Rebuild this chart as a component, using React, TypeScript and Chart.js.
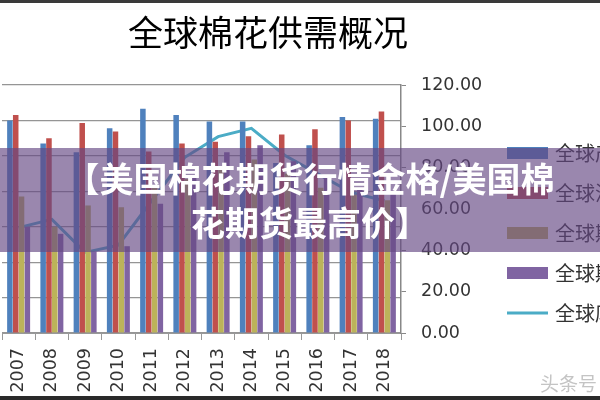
import React, { useEffect, useRef } from 'react';
import { Chart, registerables } from 'chart.js';

Chart.register(...registerables);

// ---- data ----
const years = ['2007', '2008', '2009', '2010', '2011', '2012', '2013', '2014', '2015', '2016', '2017', '2018'];
const production = [120, 107, 102, 115.6, 126.6, 123, 119.4, 119.4, 96, 106, 122, 121];
const consumption = [123, 110, 118.5, 113.7, 102.5, 107, 108, 111, 112, 115, 120, 125];
const beginStocks = [77, 60, 72, 71, 82, 87, 92, 98, 90, 82, 78, 75];
const endStocks = [60, 56, 46, 49, 73, 89, 102, 106, 97, 89, 81, 80];
const stockUseRatio = [51, 55, 39, 42.5, 64, 85, 95, 99, 86, 77, 68, 64];
const seriesNames = ['全球产量', '全球消费量', '全球期初库存', '全球期末库存', '全球库存消费比'];
const seriesColors = ['#4f81bd', '#c0504d', '#bcb35a', '#8064a2', '#4bacc6'];
const chartTitle = '全球棉花供需概况';
const bannerLines = ['【美国棉花期货行情金格/美国棉', '花期货最高价】'];
const watermark = '头条号';

// ---- layout (canvas coordinates) ----
const CANVAS_W = 726;
const CANVAS_H = 400;
const CANVAS_LEFT = -58;
const PAD_RIGHT = 74;
const LEGEND_X = 565;
const LEGEND_Y0 = 153;
const LEGEND_STEP = 40;

export default function App() {
  const ref = useRef<HTMLCanvasElement>(null);

  useEffect(() => {
    const canvas = ref.current as HTMLCanvasElement;
    const sideLegend = {
      id: 'sideLegend',
      afterDraw(chart: any) {
        const ctx = chart.ctx;
        ctx.save();
        chart.data.datasets.forEach((ds: any, i: number) => {
          const y = LEGEND_Y0 + i * LEGEND_STEP;
          if (ds.type === 'line') {
            ctx.strokeStyle = ds.borderColor;
            ctx.lineWidth = 3;
            ctx.beginPath();
            ctx.moveTo(LEGEND_X, y);
            ctx.lineTo(LEGEND_X + 41, y);
            ctx.stroke();
          } else {
            ctx.fillStyle = ds.backgroundColor;
            ctx.fillRect(LEGEND_X, y - 6, 41, 12);
          }
          ctx.fillStyle = '#333';
          ctx.font = '20px "Noto Sans CJK SC", sans-serif';
          ctx.textBaseline = 'middle';
          ctx.textAlign = 'left';
          ctx.fillText(ds.label, LEGEND_X + 48, y);
        });
        ctx.restore();
      },
    };

    const barSeries = [production, consumption, beginStocks, endStocks];
    const datasets: any[] = barSeries.map((d, i) => ({
      type: 'bar',
      label: seriesNames[i],
      data: d,
      backgroundColor: seriesColors[i],
      borderWidth: 0,
      yAxisID: 'y',
      categoryPercentage: 0.7,
      barPercentage: 0.95,
    }));
    datasets.push({
      type: 'line',
      label: seriesNames[4],
      data: stockUseRatio,
      borderColor: seriesColors[4],
      backgroundColor: seriesColors[4],
      borderWidth: 3,
      pointRadius: 0,
      tension: 0,
      yAxisID: 'y1',
    });

    Chart.defaults.font.family = '"DejaVu Sans", sans-serif';

    const chart = new Chart(canvas, {
      type: 'bar',
      data: { labels: years, datasets },
      options: {
        animation: false,
        responsive: false,
        devicePixelRatio: 1,
        layout: { padding: { left: 0, top: 0, bottom: 0, right: PAD_RIGHT } },
        plugins: {
          legend: { display: false },
          tooltip: { enabled: false },
          title: {
            display: true,
            text: chartTitle,
            color: '#000',
            font: { family: '"Noto Sans CJK SC", sans-serif', size: 35, weight: 'normal' },
            padding: { top: 12, bottom: 31 },
          },
        },
        scales: {
          x: {
            grid: { drawOnChartArea: false, offset: true, tickLength: 7, color: '#999' },
            border: { color: '#999', width: 1 },
            ticks: { minRotation: 90, maxRotation: 90, padding: 8, autoSkip: false, color: '#333', font: { size: 17.5 } },
            afterFit: (s: any) => { s.height = 67; },
          },
          y: {
            position: 'left',
            min: 0,
            max: 140,
            ticks: { stepSize: 20, color: '#333', font: { size: 17.5 } },
            grid: { color: '#959595', lineWidth: 1.2, drawTicks: false },
            border: { display: false },
            afterFit: (s: any) => { s.width = 60; },
          },
          y1: {
            position: 'right',
            min: 0,
            max: 120,
            ticks: {
              stepSize: 20,
              padding: 15,
              color: '#333',
              font: { size: 17.5 },
              callback: (v: any) => Number(v).toFixed(2),
            },
            grid: { drawOnChartArea: false, tickLength: 5, color: '#888' },
            border: { color: '#888', width: 1.5 },
            afterFit: (s: any) => { s.width = CANVAS_W - PAD_RIGHT - 459; },
          },
        },
      } as any,
      plugins: [sideLegend],
    });
    return () => chart.destroy();
  }, []);

  return (
    <div style={{ position: 'fixed', left: 0, top: 0, width: 600, height: 400, overflow: 'hidden', background: '#fff' }}>
      <canvas
        ref={ref}
        width={CANVAS_W}
        height={CANVAS_H}
        style={{ position: 'absolute', left: CANVAS_LEFT, top: 0, width: CANVAS_W, height: CANVAS_H, display: 'block' }}
      />
      <div style={{ position: 'absolute', left: 0, top: 0, width: 600, height: 3, background: '#3a3a3a' }} />
      <div
        style={{
          position: 'absolute', left: 0, top: 148, width: 600, height: 104,
          background: 'rgba(100,70,130,0.65)',
          display: 'flex', flexDirection: 'column', justifyContent: 'center', alignItems: 'center',
          color: '#fff', fontFamily: '"Noto Sans CJK SC", sans-serif', fontWeight: 700,
          fontSize: 34, lineHeight: '44px', paddingLeft: 20, boxSizing: 'border-box', whiteSpace: 'nowrap',
        }}
      >
        {bannerLines.map((t, i) => (<div key={i}>{t}</div>))}
      </div>
      <div
        style={{
          position: 'absolute', left: 540, top: 371, fontSize: 19, color: '#c4c4c4',
          fontFamily: '"Noto Sans CJK SC", sans-serif', lineHeight: '24px',
        }}
      >
        {watermark}
      </div>
      <div style={{ position: 'absolute', left: 0, top: 396, width: 600, height: 4, background: '#2a2a2a' }} />
    </div>
  );
}
